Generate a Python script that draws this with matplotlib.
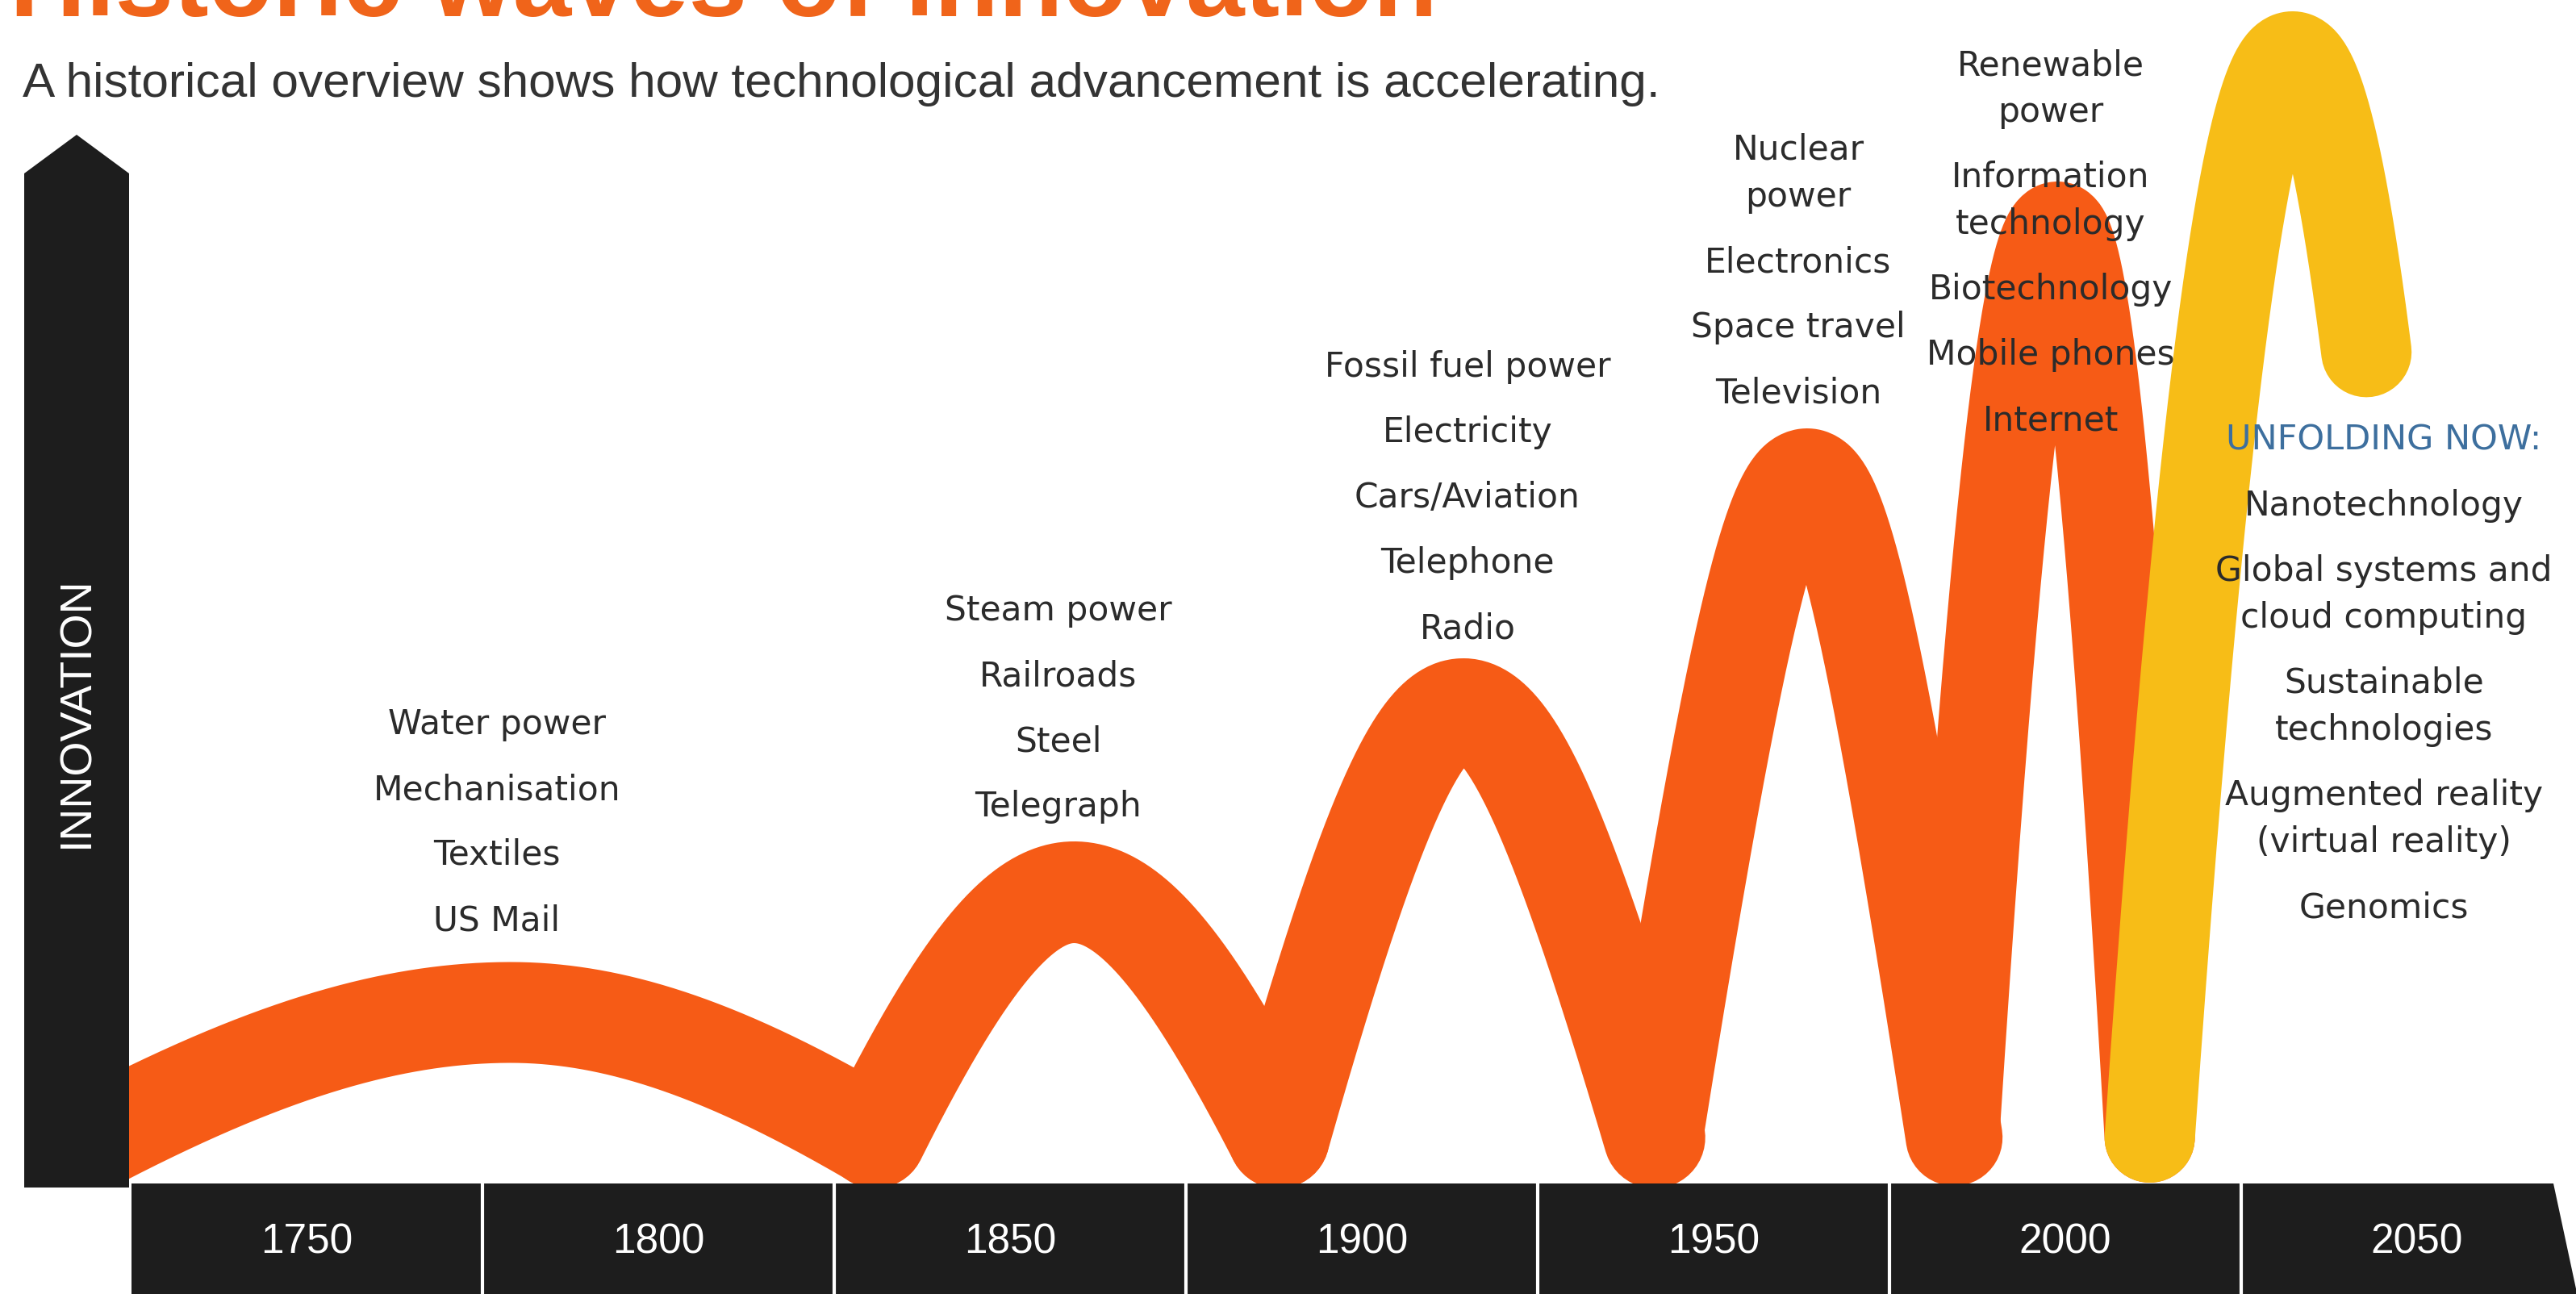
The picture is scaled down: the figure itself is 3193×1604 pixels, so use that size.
import numpy as np
import matplotlib.pyplot as plt
from matplotlib import font_manager
from matplotlib.patches import Polygon, Rectangle

W, H = 3193, 1604
DPI = 100

# ---- data -------------------------------------------------------------
tick_years = [1750, 1800, 1850, 1900, 1950, 2000, 2050]

# each wave: year it leaves the base, peak year, year it returns to base
wave_rise = [1720.5, 1830.8, 1888.2, 1941.6, 1984.2, 2012.0]
wave_peak_year = [1779.0, 1859.1, 1914.4, 1963.3, 1998.9, 2032.3]
wave_fall = [1830.8, 1888.2, 1941.6, 1984.2, 2012.0, 2052.8]
wave_peak = [21.2, 36.1, 58.8, 87.6, 118.6, 139.7]
wave_base = 5.7
drawn_until = [None, None, None, None, None, 2042.8]  # the current wave is still unfolding

wave1_items = ['Water power', 'Mechanisation', 'Textiles', 'US Mail']
wave2_items = ['Steam power', 'Railroads', 'Steel', 'Telegraph']
wave3_items = ['Fossil fuel power', 'Electricity', 'Cars/Aviation', 'Telephone', 'Radio']
wave4_items = ['Nuclear\npower', 'Electronics', 'Space travel', 'Television']
wave5_items = ['Renewable\npower', 'Information\ntechnology', 'Biotechnology',
               'Mobile phones', 'Internet']
future_items = ['Nanotechnology', 'Global systems and\ncloud computing',
                'Sustainable\ntechnologies', 'Augmented reality\n(virtual reality)',
                'Genomics']

# ---- styles -----------------------------------------------------------
ORANGE = '#f65b16'
YELLOW = '#f7bd17'
BLACK = '#1d1d1d'
TEXT = '#2b2b2b'
BLUE = '#3d6f9e'
wave_colors = [ORANGE] * 5 + [YELLOW]
wave_width_px = [125, 126, 126, 120, 112, 112]
wave_round = [1.0, 0.8, 0.6, 0.5, 1.2, 2.0]

names = {f.name for f in font_manager.fontManager.ttflist}
narrow = 'Liberation Sans Narrow' in names


def year_of(px):
    return 1750 + (px - 380) / 8.72


def level_of(py):
    return (1467 - py) / 10


def fig_at(px, py):
    return px / W, 1 - py / H


fig = plt.figure(figsize=(W / DPI, H / DPI), dpi=DPI)
fig.patch.set_facecolor('white')
ax = fig.add_axes([0, 0, 1, 1])
ax.set_xlim(year_of(0), year_of(W))
ax.set_ylim(level_of(H), level_of(0))
ax.axis('off')

# waves, cut at the time axis
above_axis = Rectangle((year_of(160), 0), 500, 500, transform=ax.transData)
for i in range(len(wave_rise)):
    x0, xp, x1 = wave_rise[i], wave_peak_year[i], wave_fall[i]
    stop = drawn_until[i] if drawn_until[i] else x1
    xs = np.linspace(x0, stop, 600)
    t = np.where(xs < xp, (xp - xs) / (xp - x0), (xs - xp) / (x1 - xp))
    r = wave_round[i]
    g = (np.sqrt(r * r + t * t) - r) / (np.sqrt(r * r + 1) - r)
    ys = wave_peak[i] - (wave_peak[i] - wave_base) * g
    line, = ax.plot(xs, ys, color=wave_colors[i], lw=wave_width_px[i] * 72 / DPI,
                    solid_capstyle='round', solid_joinstyle='round', zorder=2)
    line.set_clip_path(above_axis)

# time axis band with year segments
band = Polygon([(year_of(163), 0), (year_of(3165), 0), (year_of(3215), level_of(1700)),
                (year_of(163), level_of(1700))], closed=True, facecolor=BLACK,
               edgecolor='none', zorder=3)
ax.add_patch(band)
seps = [y + 25 for y in tick_years[:-1]]
ax.vlines(seps, level_of(H + 10), 0, color='white', lw=3, zorder=4)
if narrow:
    year_font = dict(family=['Liberation Sans Narrow', 'DejaVu Sans'], fontsize=45)
else:
    year_font = dict(family=['Liberation Sans', 'DejaVu Sans'], fontsize=37)
for y in tick_years:
    ax.text(y, level_of(1540), str(y), color='white', ha='center', va='center',
            zorder=5, **year_font)

# innovation arrow
arrow = Polygon([(year_of(30), level_of(1472)), (year_of(30), level_of(215)),
                 (year_of(95), level_of(167)), (year_of(160), level_of(215)),
                 (year_of(160), level_of(1472))], closed=True, facecolor=BLACK,
                edgecolor='none', zorder=3)
ax.add_patch(arrow)
fig.text(*fig_at(95, 883), 'INNOVATION', rotation=90, color='white', ha='center',
         va='center', fontsize=40, family=['Liberation Sans', 'DejaVu Sans'], zorder=5)

# title and subtitle
if narrow:
    fig.text(*fig_at(12, 20), 'Historic waves of innovation', color='#f0641a',
             fontsize=115, weight='bold', ha='left', va='baseline',
             family=['Liberation Sans Narrow', 'DejaVu Sans'])
else:
    fig.text(*fig_at(12, 20), 'Historic waves of innovation', color='#f0641a',
             fontsize=94, weight='bold', ha='left', va='baseline',
             family=['Liberation Sans', 'DejaVu Sans'])
fig.text(*fig_at(28, 120),
         'A historical overview shows how technological advancement is accelerating.',
         color='#333333', fontsize=43.5, ha='left', va='baseline',
         family=['Liberation Sans', 'DejaVu Sans'])


# label blocks
def label_block(items, cx, cy, item_gap=81, line_gap=58):
    y = cy
    for item in items:
        lines = item.split('\n')
        for j, line in enumerate(lines):
            fig.text(*fig_at(cx, y), line, color=TEXT, fontsize=30.5, ha='center',
                     va='center', family=['DejaVu Sans'], zorder=6)
            if j < len(lines) - 1:
                y += line_gap
        y += item_gap


label_block(wave1_items, 616, 898)
label_block(wave2_items, 1312, 757)
label_block(wave3_items, 1819, 455)
label_block(wave4_items, 2229, 186)
label_block(wave5_items, 2542, 81)
fig.text(*fig_at(2955, 546), 'UNFOLDING NOW:', color=BLUE, fontsize=31,
         ha='center', va='center', family=['DejaVu Sans'])
label_block(future_items, 2955, 627)

fig.savefig('out.png', dpi=DPI, facecolor='white')
